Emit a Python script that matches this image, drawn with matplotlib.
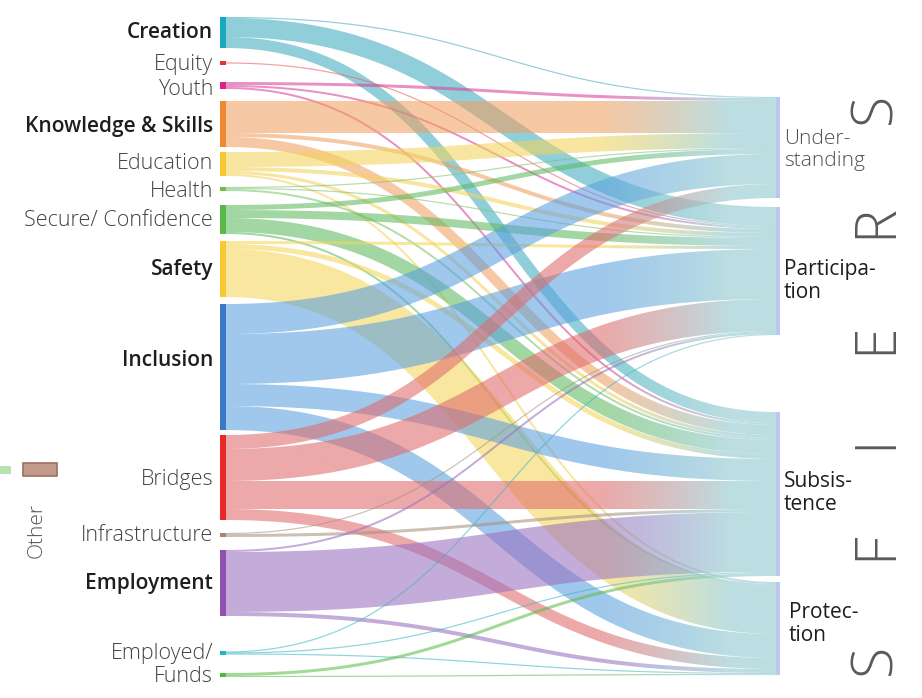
import numpy as np
import matplotlib
matplotlib.use("Agg")
import matplotlib.pyplot as plt
from matplotlib.path import Path
from matplotlib.patches import PathPatch, Rectangle
from matplotlib.colors import to_rgb

plt.rcParams["font.family"] = ["Open Sans", "DejaVu Sans"]

# --- data -------------------------------------------------------------
sources = ["Creation", "Equity", "Youth", "Knowledge & Skills", "Education",
           "Health", "Secure/ Confidence", "Safety", "Inclusion", "Bridges",
           "Infrastructure", "Employment", "Employed/", "Funds"]
targets = ["Under-\nstanding", "Participa-\ntion", "Subsis-\ntence", "Protec-\ntion"]

# flow size from each source (same order as sources) into each target
to_understanding = [1, 0, 3, 32, 15, 1, 5, 0, 30, 14, 0, 0, 0, 0]
to_participation = [19, 1, 2, 4, 4, 1, 8, 3, 50, 32, 1, 2, 1, 0]
to_subsistence = [11, 0, 2, 10, 3, 2, 14, 5, 22, 28, 3, 60, 1, 3]
to_protection = [0, 0, 0, 0, 2, 0, 2, 48, 24, 11, 0, 4, 1, 1]

bold_sources = ["Creation", "Knowledge & Skills", "Safety", "Inclusion", "Employment"]
bold_targets = ["Participa-\ntion", "Subsis-\ntence", "Protec-\ntion"]

node_colors = ["#1aa8bd", "#e83030", "#e0208a", "#f08830", "#f8c830", "#6cc04a",
               "#58b848", "#f8c830", "#3a78c8", "#e82828", "#b08070", "#9050b0",
               "#20b8c8", "#50b840"]
band_colors = ["#3fadbd", "#e85a5a", "#d9409a", "#f0a060", "#f3d35a", "#7cc46a",
               "#5fba60", "#f5d75a", "#5a9fdf", "#e06a6a", "#a89080", "#9a70c0",
               "#3ab5c5", "#5cbd4a"]

# --- layout (pixels) --------------------------------------------------
src_top = [17, 61, 82, 101, 152, 187, 205, 241, 304, 435, 533, 550, 651, 673]
src_label_y = [33, 64.5, 89.5, 126.5, 163.5, 191.5, 220.5, 269.5, 360.5, 479.5, 535.5, 583.5, 653.5, 676.5]
tgt_top = [97, 207, 412, 582]
tgt_label_y = [150, 281, 493, 624]
x_left, x_right = 226, 776
fade = np.array(to_rgb("#9fd0d6"))

flows = np.array([to_understanding, to_participation, to_subsistence, to_protection]).T

fig = plt.figure(figsize=(9.22, 6.98), dpi=100)
ax = fig.add_axes([0, 0, 1, 1])
ax.set_xlim(0, 922)
ax.set_ylim(698, 0)
ax.axis("off")


def band_path(y0, y1, w):
    t = np.linspace(0, 1, 140)[:, None]
    xm = (x_left + x_right) / 2
    p0, p1 = np.array([x_left, y0]), np.array([xm, y0])
    p2, p3 = np.array([xm, y1]), np.array([x_right, y1])
    pts = (1 - t) ** 3 * p0 + 3 * (1 - t) ** 2 * t * p1 + 3 * (1 - t) * t ** 2 * p2 + t ** 3 * p3
    d = 3 * (1 - t) ** 2 * (p1 - p0) + 6 * (1 - t) * t * (p2 - p1) + 3 * t ** 2 * (p3 - p2)
    n = np.column_stack([-d[:, 1], d[:, 0]]) / np.linalg.norm(d, axis=1)[:, None]
    upper = pts + n * w / 2
    lower = pts - n * w / 2
    verts = np.vstack([upper, lower[::-1], upper[:1]])
    return Path(verts, closed=True)


tgt_offset = list(tgt_top)
for i, name in enumerate(sources):
    total = flows[i].sum()
    node_h = max(total, 4)
    y = src_top[i] + (node_h - total) / 2
    for j in range(len(targets)):
        w = flows[i, j]
        if w == 0:
            continue
        y0 = y + w / 2
        y1 = tgt_offset[j] + w / 2
        y += w
        tgt_offset[j] += w
        path = band_path(y0, y1, max(w, 1.2))
        xs = np.linspace(x_left, x_right, 300)
        f = np.clip((xs - 600) / 130, 0, 1)[:, None]
        rgb = (1 - f) * np.array(to_rgb(band_colors[i])) + f * fade
        alpha = 0.58 + 0.12 * f
        img = np.concatenate([rgb, alpha], axis=1)[None, :, :]
        ymin, ymax = path.vertices[:, 1].min(), path.vertices[:, 1].max()
        im = ax.imshow(img, extent=(x_left, x_right, ymax, ymin), aspect="auto",
                       interpolation="bilinear", zorder=2)
        clip = PathPatch(path, transform=ax.transData, facecolor="none", edgecolor="none")
        im.set_clip_path(clip)

# left nodes and labels
for i, name in enumerate(sources):
    node_h = max(flows[i].sum(), 4)
    ax.add_patch(Rectangle((x_left - 6, src_top[i]), 6, node_h,
                           color=node_colors[i], lw=0, zorder=3))
    bold = name in bold_sources
    ax.text(213, src_label_y[i], name, ha="right", va="center",
            fontsize=15 if bold else 15.5,
            fontweight="semibold" if bold else "light",
            color="#1e1e1e" if bold else "#444444", zorder=4)

# right nodes and labels
for j, name in enumerate(targets):
    h = flows[:, j].sum()
    ax.add_patch(Rectangle((x_right, tgt_top[j]), 4, h, color="#bfc6ee", lw=0, zorder=3))
    bold = name in bold_targets
    ax.text(784 if j < 3 else 789, tgt_label_y[j], name, ha="left", va="center",
            fontsize=15, linespacing=1.15,
            fontweight="normal" if bold else "light",
            color="#1e1e1e" if bold else "#505050", zorder=4)

# big vertical title
for letter, yc in zip("SFIERS", [659, 546, 442, 338, 221, 108]):
    ax.text(876, yc, letter, rotation=90, ha="center", va="center",
            fontsize=41, fontweight="light", color="#5a5a5a")

# "Other" fragment on the far left
ax.add_patch(Rectangle((23, 463), 34, 13, facecolor="#c49a8a", edgecolor="#a07060",
                       lw=1.2, zorder=3))
ax.add_patch(Rectangle((0, 466), 11, 8, facecolor="#b8e0b0", lw=0, zorder=3))
ax.text(37, 530, "Other", rotation=90, ha="center", va="center",
        fontsize=15, fontweight="light", color="#555555")

fig.savefig("out.png", dpi=100)
